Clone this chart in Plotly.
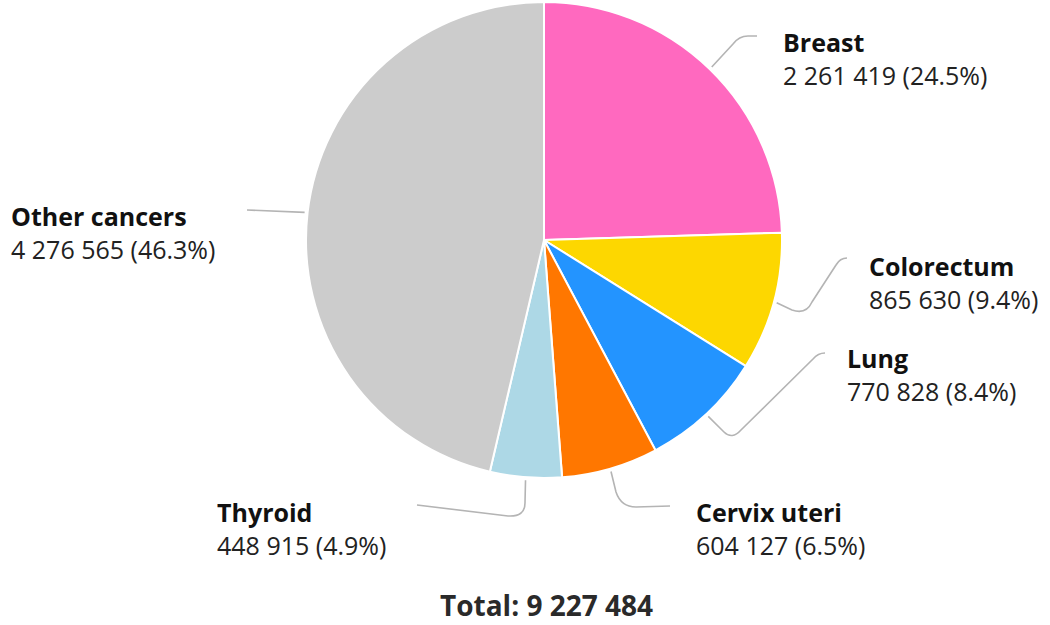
import math
import plotly.graph_objects as go

labels = ["Breast", "Colorectum", "Lung", "Cervix uteri", "Thyroid", "Other cancers"]
values = [2261419, 865630, 770828, 604127, 448915, 4276565]
colors = ["#FF69BF", "#FDD700", "#2394FF", "#FF7700", "#ADD8E6", "#CCCCCC"]

W, H = 1050, 625
CX, CY, R = 544, 240, 238

# label anchor (left x, y of name line) in pixels
label_pos = {
    "Breast": (781, 42),
    "Colorectum": (867, 266),
    "Lung": (845, 358),
    "Cervix uteri": (694, 512),
    "Thyroid": (215, 512),
    "Other cancers": (9, 216),
}

def fmt(n):
    return f"{n:,}".replace(",", " ")

total = sum(values)

fig = go.Figure(go.Pie(
    labels=labels, values=values, sort=False, direction="clockwise", rotation=0,
    marker=dict(colors=colors, line=dict(color="white", width=2)),
    textinfo="none", hoverinfo="label+value+percent", showlegend=False,
    domain=dict(x=[(CX - R) / W, (CX + R) / W], y=[(H - CY - R) / H, (H - CY + R) / H]),
))

def px(x, y):
    return x / W, 1 - y / H

annotations = []
shapes = []
cum = 0
for lab, v in zip(labels, values):
    frac = v / total
    mid = (cum + frac / 2) * 2 * math.pi
    cum += frac
    sx = CX + (R + 3) * math.sin(mid)
    sy = CY - (R + 3) * math.cos(mid)
    lx, ly = label_pos[lab]
    if lab == "Breast":
        pts = f"M {sx},{sy} L 733,44 Q 739,36 748,36 L 757,36"
    elif lab == "Colorectum":
        pts = f"M {sx},{sy} L 792,310 Q 806,315 812,302 L 836,265 Q 840,258 847,258"
    elif lab == "Lung":
        pts = f"M {sx},{sy} L 724,432 Q 732,440 741,430 L 813,359 Q 818,353 825,353"
    elif lab == "Cervix uteri":
        pts = f"M {sx},{sy} L 616,492 Q 621,507 636,507 L 670,506"
    elif lab == "Thyroid":
        pts = f"M {sx},{sy} L 525,503 Q 525,517 508,516 L 417,505"
    else:
        pts = f"M {sx},{sy} L 247,210"
    out = []
    for t in pts.split():
        if "," in t:
            a, b = t.split(",")
            x, y = px(float(a), float(b))
            out.append(f"{x},{y}")
        else:
            out.append(t)
    shapes.append(dict(type="path", xref="paper", yref="paper", path=" ".join(out),
                       line=dict(color="#b4b4b4", width=1.6)))
    x, y = px(lx, ly)
    annotations.append(dict(x=x, y=y, xref="paper", yref="paper", xanchor="left", yanchor="middle",
                            text=f"<b>{lab}</b>", showarrow=False,
                            font=dict(family="Open Sans", size=25, color="#111111")))
    x, y = px(lx, ly + 33)
    annotations.append(dict(x=x, y=y, xref="paper", yref="paper", xanchor="left", yanchor="middle",
                            text=f"{fmt(v)} ({frac * 100:.1f}%)", showarrow=False,
                            font=dict(family="Open Sans", size=25, color="#222222")))

x, y = px(546, 605)
annotations.append(dict(x=x, y=y, xref="paper", yref="paper", xanchor="center", yanchor="middle",
                        text=f"<b>Total: {fmt(total)}</b>", showarrow=False,
                        font=dict(family="Open Sans", size=28, color="#2a2a2a")))

fig.update_layout(
    width=W, height=H, margin=dict(l=0, r=0, t=0, b=0),
    paper_bgcolor="white", plot_bgcolor="white",
    annotations=annotations, shapes=shapes,
)

fig.write_html("out.html", config={"displayModeBar": False})
with open("out.html", "r", encoding="utf-8") as f:
    html = f.read()
html = html.replace("<body>", '<body style="margin:0;overflow:hidden">', 1)
with open("out.html", "w", encoding="utf-8") as f:
    f.write(html)
